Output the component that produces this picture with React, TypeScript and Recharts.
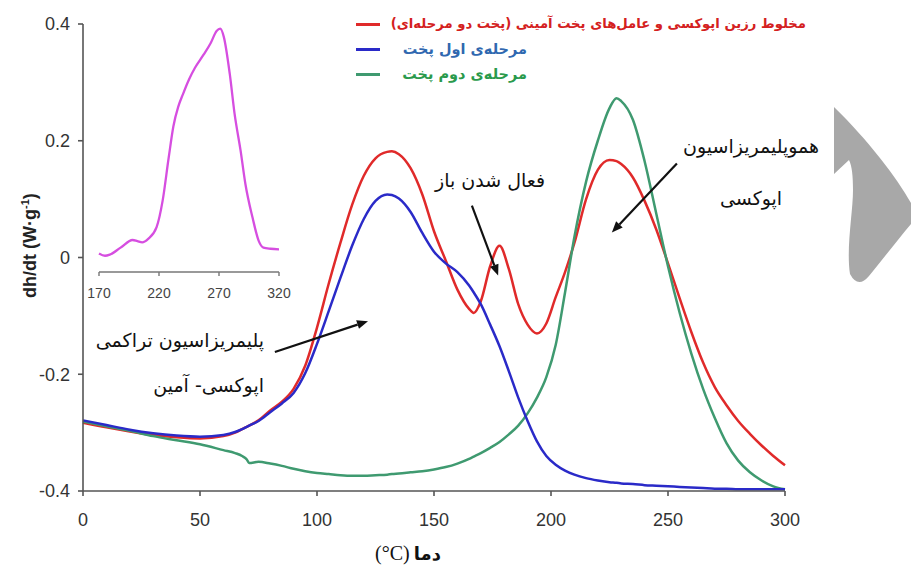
import React from 'react';
import { LineChart, Line, XAxis, YAxis, ReferenceLine } from 'recharts';

// temperature grid (°C) shared by the three DSC curves
const temps = [0, 10, 20, 30, 40, 50, 60, 65, 68, 70, 71, 75, 80, 85, 90, 95, 100, 105, 110, 115, 120, 125, 130, 132, 135, 140, 145, 150, 155, 160, 165, 167, 170, 174, 178, 182, 186, 190, 194, 198, 202, 206, 210, 215, 220, 225, 228, 230, 235, 240, 245, 250, 255, 260, 265, 270, 275, 280, 285, 290, 295, 300];

// resin + amine mixture, two-stage cure
const mixture = [-0.283, -0.291, -0.298, -0.304, -0.308, -0.31, -0.306, -0.3, -0.294, -0.29, -0.288, -0.279, -0.262, -0.247, -0.225, -0.185, -0.12, -0.045, 0.025, 0.09, 0.14, 0.17, 0.181, 0.182, 0.177, 0.153, 0.108, 0.045, -0.005, -0.055, -0.088, -0.095, -0.075, -0.015, 0.02, -0.02, -0.08, -0.115, -0.13, -0.113, -0.068, -0.025, 0.025, 0.1, 0.15, 0.167, 0.165, 0.16, 0.137, 0.097, 0.048, -0.01, -0.07, -0.128, -0.18, -0.222, -0.253, -0.28, -0.302, -0.322, -0.34, -0.356];

// first cure stage
const stage1 = [-0.279, -0.287, -0.295, -0.301, -0.305, -0.307, -0.304, -0.299, -0.294, -0.29, -0.288, -0.28, -0.265, -0.25, -0.232, -0.198, -0.148, -0.092, -0.035, 0.02, 0.066, 0.097, 0.108, 0.107, 0.101, 0.078, 0.042, 0.01, -0.01, -0.025, -0.048, -0.06, -0.08, -0.115, -0.152, -0.195, -0.24, -0.28, -0.315, -0.34, -0.355, -0.365, -0.372, -0.378, -0.382, -0.385, -0.386, -0.387, -0.388, -0.39, -0.391, -0.392, -0.393, -0.394, -0.395, -0.396, -0.396, -0.397, -0.397, -0.397, -0.397, -0.397];

// second cure stage
const stage2 = [-0.281, -0.289, -0.297, -0.306, -0.313, -0.32, -0.33, -0.335, -0.34, -0.346, -0.352, -0.35, -0.353, -0.357, -0.362, -0.366, -0.369, -0.371, -0.373, -0.374, -0.374, -0.373, -0.372, -0.371, -0.37, -0.368, -0.366, -0.363, -0.359, -0.353, -0.345, -0.341, -0.335, -0.326, -0.316, -0.303, -0.288, -0.267, -0.24, -0.205, -0.15, -0.06, 0.035, 0.13, 0.2, 0.256, 0.273, 0.268, 0.236, 0.165, 0.075, -0.015, -0.095, -0.165, -0.225, -0.275, -0.318, -0.348, -0.368, -0.382, -0.392, -0.397];

// inset curve
const insetTemps = [170, 175, 179, 188, 198, 202, 206, 211, 218, 223, 228, 232, 236, 240, 245, 250, 257, 263, 268, 271, 274, 279, 283, 288, 292, 298, 303, 307, 313, 320];
const insetVals = [0.007, 0.003, 0.005, 0.017, 0.03, 0.028, 0.026, 0.032, 0.052, 0.097, 0.17, 0.225, 0.258, 0.28, 0.305, 0.325, 0.347, 0.367, 0.388, 0.392, 0.378, 0.314, 0.246, 0.183, 0.126, 0.068, 0.029, 0.017, 0.015, 0.014];

const xTicks = [0, 50, 100, 150, 200, 250, 300];
const yTicks = [-0.4, -0.2, 0, 0.2, 0.4];
const insetTicks = [170, 220, 270, 320];

const legendItems = [
  { label: 'مخلوط رزین اپوکسی و عامل‌های پخت آمینی (پخت دو مرحله‌ای)', line: '#e02a2a', text: '#d42020', size: 13.2, right: 806 },
  { label: 'مرحله‌ی اول پخت', line: '#2a2ac8', text: '#3068b0', size: 14.5, right: 527 },
  { label: 'مرحله‌ی دوم پخت', line: '#3f9a70', text: '#2a9a4c', size: 14.5, right: 527 },
];

// arrow annotations, in data coordinates: [fromT, fromV, toT, toV]
const arrows = [
  [82, -0.162, 121.8, -0.109],
  [166.2, 0.089, 177.4, -0.031],
  [253.8, 0.161, 226, 0.043],
];

const rows = temps.map((t, i) => ({ t, mix: mixture[i], s1: stage1[i], s2: stage2[i] }));
const insetRows = insetTemps.map((t, i) => ({ t, v: insetVals[i] }));

const ArrowShape = (p: any) => {
  const { x1, y1, x2, y2 } = p;
  const a = Math.atan2(y2 - y1, x2 - x1);
  const len = 11;
  const w = 4.5;
  const bx = x2 - len * Math.cos(a);
  const by = y2 - len * Math.sin(a);
  const pts = [
    `${x2},${y2}`,
    `${bx + w * Math.sin(a)},${by - w * Math.cos(a)}`,
    `${bx - w * Math.sin(a)},${by + w * Math.cos(a)}`,
  ].join(' ');
  return (
    <g>
      <line x1={x1} y1={y1} x2={bx} y2={by} stroke="#111" strokeWidth={2.2} />
      <polygon points={pts} fill="#111" />
    </g>
  );
};

const tickFont = { fill: '#333', fontSize: 18, fontFamily: '"Liberation Sans", Arial, sans-serif' };
const persian = '"DejaVu Sans", sans-serif';
const noteStyle: React.CSSProperties = {
  position: 'absolute',
  direction: 'rtl',
  whiteSpace: 'nowrap',
  fontFamily: persian,
  fontSize: 19,
  lineHeight: '28px',
  color: '#111',
};

export default function App() {
  return (
    <div style={{ position: 'absolute', left: 0, top: 0, width: 911, height: 566, background: '#fff', overflow: 'hidden' }}>
      <LineChart width={911} height={566} data={rows} margin={{ top: 24, right: 126, bottom: 45, left: 23 }}>
        <XAxis
          dataKey="t"
          type="number"
          domain={[0, 300]}
          ticks={xTicks}
          height={30}
          stroke="#555"
          strokeWidth={1.6}
          tickSize={5}
          tickMargin={17}
          tick={tickFont}
        />
        <YAxis
          type="number"
          domain={[-0.4, 0.4]}
          ticks={yTicks}
          width={60}
          stroke="#555"
          strokeWidth={1.6}
          tickSize={5}
          tickMargin={8}
          tick={tickFont}
          tickFormatter={(v: number) => (v === 0 ? '0' : v.toFixed(1))}
        />
        <Line dataKey="mix" type="monotone" stroke="#e02a2a" strokeWidth={2.5} dot={false} isAnimationActive={false} />
        <Line dataKey="s2" type="monotone" stroke="#3f9a70" strokeWidth={2.5} dot={false} isAnimationActive={false} />
        <Line dataKey="s1" type="monotone" stroke="#2a2ac8" strokeWidth={2.5} dot={false} isAnimationActive={false} />
        {arrows.map((a, i) => (
          <ReferenceLine
            key={i}
            segment={[{ x: a[0], y: a[1] }, { x: a[2], y: a[3] }]}
            shape={ArrowShape}
          />
        ))}
      </LineChart>

      {/* inset: same y scale, own temperature axis */}
      <div style={{ position: 'absolute', left: 0, top: 0 }}>
        <LineChart width={911} height={566} data={insetRows} margin={{ top: 24, right: 632, bottom: 264, left: 99 }}>
          <XAxis
            dataKey="t"
            type="number"
            domain={[170, 320]}
            ticks={insetTicks}
            height={30}
            stroke="#777"
            strokeWidth={1.4}
            tickSize={4}
            tickMargin={12}
            tick={{ fill: '#444', fontSize: 14, fontFamily: '"Liberation Sans", Arial, sans-serif' }}
          />
          <YAxis hide type="number" domain={[-0.0248, 0.4]} allowDataOverflow />
          <Line dataKey="v" type="monotone" stroke="#d64ee0" strokeWidth={2.3} dot={false} isAnimationActive={false} />
        </LineChart>
      </div>

      {/* legend */}
      {legendItems.map((it, i) => (
        <React.Fragment key={i}>
          <div style={{ position: 'absolute', left: 356, top: 23 + i * 25, width: 24, height: 3, background: it.line }} />
          <div
            style={{
              position: 'absolute',
              right: 911 - it.right,
              top: 12 + i * 25,
              lineHeight: '24px',
              direction: 'rtl',
              whiteSpace: 'nowrap',
              color: it.text,
              fontFamily: persian,
              fontWeight: 'bold',
              fontSize: it.size,
            }}
          >
            {it.label}
          </div>
        </React.Fragment>
      ))}

      {/* annotations */}
      <div style={{ ...noteStyle, right: 911 - 264, top: 326 }}>پلیمریزاسیون تراکمی</div>
      <div style={{ ...noteStyle, right: 911 - 264, top: 371 }}>اپوکسی- آمین</div>
      <div style={{ ...noteStyle, right: 911 - 545, top: 166 }}>فعال شدن باز</div>
      <div style={{ ...noteStyle, left: 651, width: 200, top: 132, textAlign: 'center' }}>
        <div>هموپلیمریزاسیون</div>
        <div style={{ marginTop: 24 }}>اپوکسی</div>
      </div>

      {/* axis titles */}
      <div style={{ position: 'absolute', left: 27 - 110, top: 243 - 11, width: 220, textAlign: 'center', transform: 'rotate(-90deg)', fontFamily: '"Liberation Sans", Arial, sans-serif', fontWeight: 'bold', fontSize: 18, lineHeight: '22px', color: '#222' }}>
        dh/dt (W·g<sup style={{ fontSize: 11 }}>-1</sup>)
      </div>
      <div style={{ position: 'absolute', left: 308, width: 200, top: 540, textAlign: 'center', lineHeight: '26px', color: '#111' }}>
        <span style={{ fontFamily: '"Liberation Serif", serif', fontSize: 20 }}>(°C)</span>{' '}
        <span style={{ fontFamily: persian, fontWeight: 'bold', fontSize: 18 }}>دما</span>
      </div>

      {/* grey slide arrow at the right edge */}
      <svg width={911} height={566} style={{ position: 'absolute', left: 0, top: 0, pointerEvents: 'none' }}>
        <path
          d="M834,107 C868,140 897,178 911,203 L911,224 C896,242 882,260 869,276 Q858,289 850,274 C846,248 853,212 853,190 C853,176 852,166 849,160 L834,174 Z"
          fill="#a8a8a8"
        />
      </svg>
    </div>
  );
}
